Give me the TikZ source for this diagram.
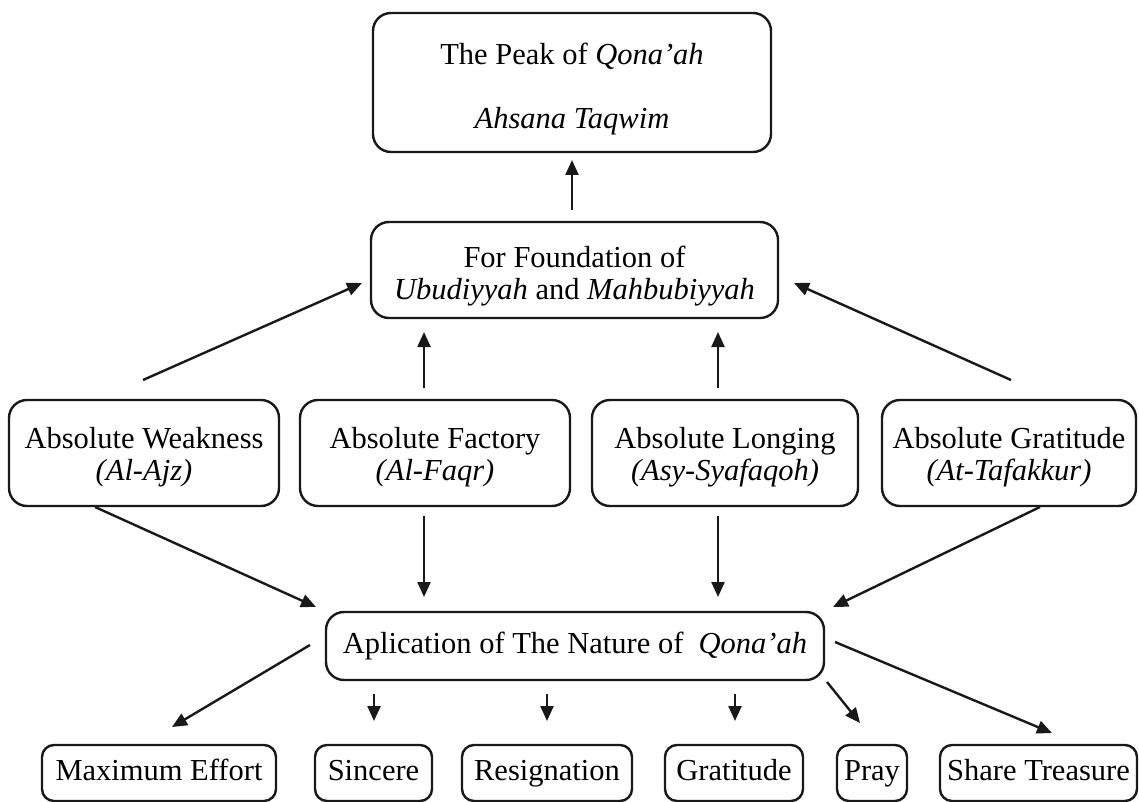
\documentclass[tikz,border=0pt]{standalone}
\usepackage{fontspec}
\setmainfont{Liberation Serif}
\usetikzlibrary{arrows.meta}
\begin{document}
\begin{tikzpicture}[x=0.5pt,y=-0.5pt,
  box/.style={draw=black!90,line width=1.2pt,rounded corners=9pt,inner sep=0pt,align=center,
    font=\fontsize{15.25}{15}\selectfont},
  sbox/.style={box,rounded corners=6pt,minimum height=28pt,text height=11pt,text depth=3.5pt},
  rbox/.style={box,minimum height=53pt},
  arr/.style={draw=black!90,line width=1.2pt,-{Triangle[length=7.5pt,width=6.5pt]}}]
\useasboundingbox (0,0) rectangle (1139,802);
% main boxes
\node[box,minimum width=199pt,minimum height=69.5pt] (peak) at (572,82.5)
  {\rule{0pt}{17pt}The Peak of \textit{Qona'ah}\\[17pt]\textit{Ahsana Taqwim}};
\node[box,minimum width=203.5pt,minimum height=48pt] (found) at (574.5,270)
  {\rule{0pt}{17pt}For Foundation of\\[1pt]\textit{Ubudiyyah} and \textit{Mahbubiyyah}};
\node[rbox,minimum width=135pt] (weak) at (144,453) {\rule{0pt}{14.5pt}Absolute Weakness\\[1pt]\textit{(Al-Ajz)}};
\node[rbox,minimum width=135pt] (fact) at (435,453) {\rule{0pt}{14.5pt}Absolute Factory\\[1pt]\textit{(Al-Faqr)}};
\node[rbox,minimum width=133pt] (long) at (725,453) {\rule{0pt}{14.5pt}Absolute Longing\\[1pt]\textit{(Asy-Syafaqoh)}};
\node[rbox,minimum width=127pt] (grat) at (1009,453) {\rule{0pt}{14.5pt}Absolute Gratitude\\[1pt]\textit{(At-Tafakkur)}};
\node[box,minimum width=249pt,minimum height=34pt] (appl) at (575,646)
  {Aplication of The Nature of\ \ \textit{Qona'ah}};
% bottom boxes
\node[sbox,minimum width=117pt] (eff) at (159,773) {Maximum Effort};
\node[sbox,minimum width=58.5pt] (sinc) at (373.5,773) {Sincere};
\node[sbox,minimum width=85pt] (resi) at (547,773) {Resignation};
\node[sbox,minimum width=69pt] (grt) at (734,773) {Gratitude};
\node[sbox,minimum width=35pt] (pray) at (872,773) {Pray};
\node[sbox,minimum width=98.5pt] (share) at (1038.5,773) {Share Treasure};
% connector end points
\coordinate (p0) at (572,210); \coordinate (p1) at (572,160);
\coordinate (a0) at (143,380); \coordinate (a1) at (362,283);
\coordinate (b0) at (424,388); \coordinate (b1) at (424,332);
\coordinate (c0) at (718,388); \coordinate (c1) at (718,332);
\coordinate (d0) at (1011,380); \coordinate (d1) at (794,283);
\coordinate (e0) at (95,507); \coordinate (e1) at (316,607);
\coordinate (f0) at (424,516); \coordinate (f1) at (424,597);
\coordinate (g0) at (718,516); \coordinate (g1) at (718,597);
\coordinate (h0) at (1040,507); \coordinate (h1) at (833,607);
\coordinate (i0) at (310,645); \coordinate (i1) at (172,727);
\coordinate (j0) at (374,694); \coordinate (j1) at (374,721);
\coordinate (k0) at (547,694); \coordinate (k1) at (547,721);
\coordinate (l0) at (735,694); \coordinate (l1) at (735,721);
\coordinate (m0) at (827,682); \coordinate (m1) at (860,723);
\coordinate (n0) at (835,642); \coordinate (n1) at (1052,733);
% connectors
\foreach \s/\t in {p0/p1,a0/a1,b0/b1,c0/c1,d0/d1,e0/e1,f0/f1,g0/g1,h0/h1,i0/i1,j0/j1,k0/k1,l0/l1,m0/m1,n0/n1}
  \draw[arr] (\s) -- (\t);
\end{tikzpicture}
\end{document}
